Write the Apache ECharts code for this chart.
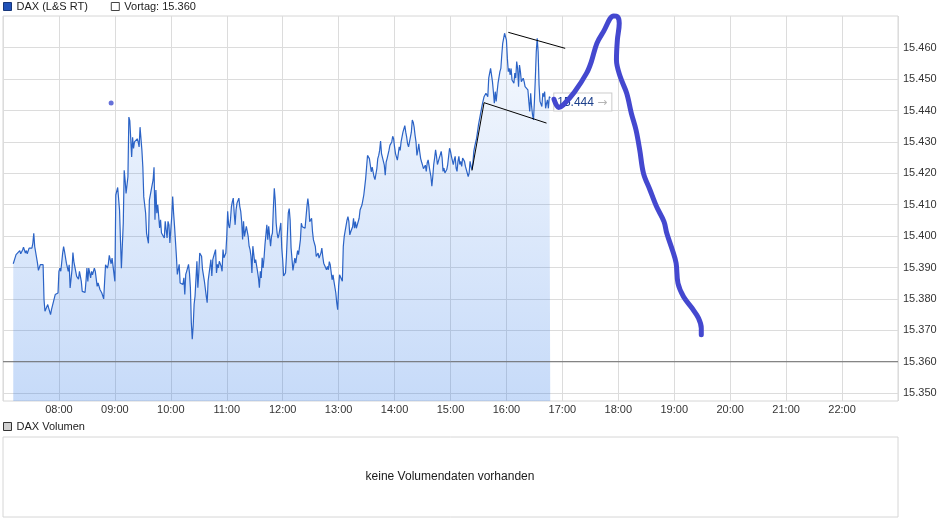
<!DOCTYPE html>
<html><head><meta charset="utf-8">
<script src="https://cdn.jsdelivr.net/npm/echarts@6/dist/echarts.min.js"></script>
<style>html,body{margin:0;padding:0;background:#fff}#c{width:940px;height:526px}</style>
</head><body><div id="c"></div>
<script>
// ---------- data ----------
const seriesName = 'DAX (L&S RT)';
const vortagName = 'Vortag: 15.360';
const volumeName = 'DAX Volumen';
const noVolumeText = 'keine Volumendaten vorhanden';
const vortag = 15360;
const xRange = ['07:00', '23:00'];
const yRange = [15347.5, 15470.1];
const priceTicks = [15350, 15360, 15370, 15380, 15390, 15400, 15410, 15420, 15430, 15440, 15450, 15460];
const hourLabels = ['08:00','09:00','10:00','11:00','12:00','13:00','14:00','15:00','16:00','17:00','18:00','19:00','20:00','21:00','22:00'];

const quotesMorning = [
 ['07:11',15391.2],['07:13',15391.4],['07:14',15394.1],['07:16',15394.6],['07:18',15395.4],['07:19',15394.4],['07:21',15395.6],['07:22',15396.5],['07:24',15394.6],['07:25',15395.4],['07:26',15394.4],['07:28',15396.2],['07:29',15395.6],['07:31',15396.2],['07:32',15397.7],['07:33',15400.9],['07:34',15396.7],['07:36',15396.2],['07:37',15391.4],['07:38',15389.1],['07:40',15390.9],['07:41',15391.2],['07:43',15390.9],['07:44',15379.8],['07:45',15376.1],['07:47',15376.6],['07:48',15378.2],['07:49',15377.1],['07:50',15376.8],['07:51',15375.0],['07:52',15376.6],['07:53',15376.1],['07:54',15376.6],['07:56',15381.4],['07:57',15381.7],['07:59',15381.9],
 ['08:00',15388.8],['08:01',15389.8],['08:02',15388.8],['08:04',15394.6],['08:05',15396.7],['08:06',15395.1],['08:08',15391.4],['08:09',15391.9],['08:10',15388.8],['08:11',15390.9],['08:12',15383.5],['08:14',15389.3],['08:15',15394.8],['08:16',15391.9],['08:18',15391.4],['08:19',15387.2],['08:21',15386.3],['08:22',15388.8],['08:24',15385.6],['08:25',15382.4],['08:26',15382.1],['08:28',15382.1],['08:29',15385.6],['08:30',15389.8],['08:31',15385.6],['08:32',15389.8],['08:34',15386.7],['08:35',15388.8],['08:36',15387.7],['08:38',15389.8],['08:39',15388.8],['08:41',15384.0],['08:42',15385.1],['08:44',15383.0],['08:45',15383.0],['08:46',15381.9],['08:48',15380.0],['08:49',15385.6],['08:50',15390.9],['08:52',15389.8],['08:53',15391.2],['08:54',15393.9],['08:56',15391.2],['08:57',15393.0],['08:59',15393.5],
 ['09:00',15385.6],['09:01',15413.1],['09:02',15413.1],['09:03',15415.5],['09:05',15408.3],['09:06',15398.8],['09:07',15389.8],['09:09',15404.1],['09:10',15421.0],['09:11',15417.8],['09:12',15413.6],['09:14',15418.9],['09:15',15437.9],['09:16',15436.8],['09:18',15425.2],['09:19',15431.5],['09:20',15427.9],['09:21',15430.0],['09:22',15429.4],['09:24',15431.0],['09:25',15430.0],['09:26',15428.4],['09:27',15434.7],['09:29',15427.3],['09:30',15422.0],['09:31',15412.5],['09:33',15407.3],['09:34',15400.9],['09:36',15397.7],
 ['09:37',15411.5],['09:39',15414.7],['09:41',15417.9],['09:42',15421.9],['09:43',15405.2],['09:44',15414.7],['09:45',15407.3],['09:46',15410.0],['09:48',15402.6],['09:49',15405.2],['09:50',15401.0],['09:51',15400.5],['09:53',15399.4],['09:54',15404.7],['09:55',15402.0],['09:56',15399.4],['09:57',15404.7],['09:58',15403.6],['09:59',15397.8]
];
const quotesMidday = [
 ['10:01',15406.3],['10:02',15412.6],['10:03',15407.3],['10:04',15403.1],['10:06',15393.6],['10:07',15387.8],['10:08',15388.3],['10:09',15391.0],['10:10',15385.1],['10:11',15384.6],['10:13',15384.6],['10:14',15386.7],['10:15',15381.4],['10:16',15387.8],['10:17',15388.8],['10:19',15391.0],['10:20',15388.3],['10:21',15383.6],['10:22',15372.5],['10:23',15367.2],['10:24',15371.4],['10:25',15378.3],['10:26',15380.9],['10:28',15392.0],['10:29',15383.6],['10:30',15388.3],['10:31',15394.6],['10:33',15393.6],['10:34',15389.4],['10:35',15389.9],['10:36',15385.7],['10:38',15380.9],['10:39',15378.8],['10:40',15385.7],['10:41',15386.2],['10:43',15392.5],['10:44',15387.3],['10:45',15392.5],['10:46',15393.6],['10:48',15395.7],['10:49',15388.3],['10:50',15391.0],['10:51',15389.9],['10:52',15392.0],['10:54',15390.4],['10:55',15388.8],['10:56',15395.7],['10:57',15393.1],['10:59',15394.6],
 ['11:00',15399.9],['11:01',15407.9],['11:02',15403.6],['11:03',15402.6],['11:04',15405.2],['11:05',15409.4],['11:06',15411.0],['11:07',15412.1],['11:08',15407.3],['11:09',15403.6],['11:10',15408.4],['11:11',15410.5],['11:13',15412.1],['11:14',15409.4],['11:15',15407.9],['11:16',15404.7],['11:17',15398.9],['11:18',15404.7],['11:19',15399.9],['11:20',15401.5],['11:21',15403.1],['11:23',15399.9],['11:24',15396.8],['11:25',15395.7],['11:26',15393.6],['11:27',15388.3],['11:28',15396.8],['11:29',15397.3],['11:30',15391.5],['11:31',15392.5],['11:33',15388.8],['11:34',15386.7],['11:35',15383.6],['11:36',15388.8],['11:37',15386.7],['11:38',15393.1],['11:39',15389.9],['11:40',15393.1],['11:41',15397.3],['11:43',15403.6],['11:44',15398.9],['11:45',15403.1],['11:46',15403.1],['11:47',15396.8],['11:48',15399.9],['11:49',15401.0],['11:50',15408.9],['11:51',15415.2],['11:52',15411.5],['11:53',15404.2],['11:54',15401.0],['11:55',15399.4],['11:56',15400.5],['11:57',15399.9],['11:58',15404.2],['11:59',15396.2],
 ['12:00',15392.5],['12:01',15387.3],['12:03',15388.3],['12:04',15393.5],['12:06',15407.3],['12:07',15408.8],['12:08',15405.1],['12:09',15396.2],['12:10',15395.6],['12:11',15389.1],['12:13',15393.0],['12:14',15391.4],['12:15',15393.5],['12:16',15395.4],['12:17',15394.1],['12:18',15394.6],['12:19',15398.8],['12:20',15404.1],['12:21',15403.0],['12:23',15403.6],['12:24',15402.5],['12:25',15403.0],['12:26',15409.4],['12:27',15412.0],['12:28',15409.4],['12:29',15404.6],['12:30',15405.1],['12:31',15405.7],['12:32',15401.4],['12:33',15398.8],['12:34',15398.8],['12:35',15396.7],['12:36',15393.5],['12:38',15394.6],['12:39',15393.0],['12:40',15392.5],['12:41',15394.6],['12:42',15396.2],['12:43',15393.5],['12:44',15391.4],['12:45',15390.9],['12:46',15391.4],['12:47',15389.3],['12:48',15390.4],['12:49',15389.3],['12:50',15391.9],['12:51',15390.9],['12:53',15386.1],['12:54',15387.7],['12:55',15385.6],['12:56',15385.1],['12:57',15381.9],['12:58',15378.7],['12:59',15376.6]
];
const quotesAfternoon = [
 ['13:00',15384.0],['13:01',15387.7],['13:03',15387.2],['13:04',15385.6],['13:05',15396.7],['13:06',15399.9],['13:08',15400.4],['13:09',15405.1],['13:10',15406.2],['13:11',15404.6],['13:12',15400.4],['13:13',15401.4],['13:14',15402.0],['13:15',15403.0],['13:16',15405.7],['13:17',15402.5],['13:18',15404.6],['13:19',15402.5],['13:21',15402.0],['13:22',15405.7],['13:23',15408.3],['13:25',15409.9],['13:26',15411.5],['13:27',15413.1],['13:28',15415.7],['13:29',15418.3],['13:30',15422.0],['13:31',15425.7],['13:32',15425.2],['13:33',15424.7],['13:34',15425.0],['13:35',15420.5],['13:36',15422.0],['13:37',15422.6],['13:38',15418.9],['13:39',15418.0],['13:40',15418.3],['13:41',15421.5],['13:42',15424.7],['13:43',15425.7],['13:44',15427.3],['13:45',15430.3],['13:46',15426.3],['13:48',15425.7],['13:49',15422.6],['13:50',15419.4],['13:51',15423.6],['13:52',15424.7],['13:53',15425.2],['13:54',15427.3],['13:55',15428.9],['13:56',15429.4],['13:57',15430.0],['13:58',15431.8],['13:59',15431.0],
 ['14:00',15428.4],['14:01',15426.3],['14:03',15424.2],['14:04',15426.3],['14:05',15428.4],['14:06',15427.3],['14:07',15430.0],['14:08',15430.5],['14:09',15433.1],['14:10',15433.7],['14:11',15435.2],['14:12',15433.1],['14:13',15431.5],['14:14',15429.4],['14:15',15428.4],['14:16',15427.9],['14:18',15433.1],['14:19',15437.0],['14:20',15436.3],['14:21',15434.7],['14:22',15432.1],['14:23',15430.0],['14:24',15425.7],['14:25',15427.3],['14:26',15429.4],['14:27',15426.8],['14:28',15424.7],['14:29',15423.6],['14:30',15422.6],['14:31',15421.5],['14:33',15422.6],['14:34',15420.6],['14:35',15423.3],['14:36',15424.3],['14:37',15423.8],['14:38',15420.6],['14:39',15419.0],['14:40',15415.9],['14:41',15419.0],['14:42',15422.8],['14:43',15424.9],['14:44',15427.5],['14:45',15425.4],['14:46',15422.8],['14:48',15424.9],['14:49',15425.9],['14:50',15427.0],['14:51',15424.9],['14:52',15420.6],['14:53',15421.7],['14:54',15420.1],['14:55',15419.6],['14:56',15421.2],['14:57',15422.8],['14:58',15425.4],['14:59',15428.0],
 ['15:00',15427.0],['15:01',15425.4],['15:03',15422.8],['15:04',15424.3],['15:05',15425.4],['15:06',15421.7],['15:07',15420.6],['15:08',15423.8],['15:09',15425.4],['15:10',15422.8],['15:11',15423.8],['15:12',15422.2],['15:13',15424.9],['15:14',15424.3],['15:15',15423.8],['15:16',15422.2],['15:18',15422.8],['15:19',15419.0],['15:20',15420.1],['15:21',15423.8],['15:22',15422.2],['15:23',15421.2],['15:24',15423.3],['15:25',15427.0],['15:26',15428.6],['15:28',15431.2],['15:29',15433.3],['15:30',15435.4],['15:31',15437.0],['15:32',15438.6],['15:33',15440.2],['15:34',15441.8],['15:35',15442.3],['15:36',15444.4],['15:38',15445.5],['15:39',15446.0],['15:40',15444.4],['15:41',15450.3],['15:42',15451.9],['15:43',15453.4],['15:44',15454.0],['15:45',15449.2],['15:46',15446.0],['15:47',15442.3],['15:48',15446.0],['15:49',15442.9],['15:50',15446.0],['15:51',15448.7],['15:53',15452.4],['15:54',15453.4],['15:55',15457.7],['15:56',15461.4],['15:57',15463.0],['15:58',15464.6],['15:59',15464.0],
 ['16:00',15462.4],['16:01',15456.6],['16:02',15452.4],['16:03',15453.4],['16:04',15451.3],['16:05',15453.4],['16:06',15449.7],['16:08',15448.7],['16:09',15451.9],['16:10',15450.3],['16:11',15455.6],['16:12',15453.4],['16:13',15447.6],['16:14',15454.5],['16:15',15452.4],['16:16',15449.2],['16:17',15448.7],['16:18',15450.3],['16:19',15449.2],['16:20',15447.6],['16:21',15448.1],['16:23',15446.6],['16:24',15442.9],['16:25',15439.7],['16:26',15445.5],['16:27',15441.3],['16:28',15438.6],['16:29',15437.0],['16:30',15442.9],['16:31',15450.3],['16:32',15458.7],['16:33',15463.0],['16:34',15458.7],['16:35',15448.1],['16:36',15442.9],['16:38',15441.3],['16:39',15445.5],['16:40',15444.4],['16:41',15446.0],['16:42',15440.7],['16:43',15442.3],['16:44',15443.4],['16:45',15440.7],['16:46',15444.4],['16:47',15444.0]
];

// annotations drawn on the chart
const markerDot = [['08:56', 15442.4]];
const channelUpper = [['16:02', 15464.9], ['17:03', 15459.8]];
const channelLower = [['15:36', 15442.5], ['16:43', 15436.0]];
const breakoutLine = [['15:23', 15420.9], ['15:36', 15442.5]];
const sketchLine = [
 ['16:51',15443.6],['16:56',15441.0],['17:01',15441.8],['17:13',15445.9],['17:26',15451.9],['17:31',15455.5],['17:37',15461.4],['17:44',15465.1],['17:55',15470.1],['17:59',15469.9],['18:01',15467.8],['17:59',15462.5],['17:58',15456.1],['18:02',15450.8],['18:09',15445.5],['18:14',15439.1],['18:19',15433.8],['18:23',15427.4],['18:27',15420.0],['18:34',15414.7],['18:41',15409.4],['18:49',15404.6],['18:52',15400.9],['18:58',15395.6],['19:02',15391.4],['19:04',15385.0],['19:10',15380.7],['19:19',15377.1],['19:26',15373.9],['19:29',15370.7],['19:29',15368.6]
];

// ---------- helpers ----------
function toMin(t) { const p = t.split(':'); return (+p[0]) * 60 + (+p[1]); }
function pts(arr) { return arr.map(d => [toMin(d[0]), d[1]]); }
function fmtPrice(v) { return (v / 1000).toFixed(3); }
const quotes = pts(quotesMorning.concat(quotesMidday, quotesAfternoon));
const hourMins = hourLabels.map(toMin);
const xMin = toMin(xRange[0]), xMax = toMin(xRange[1]);

const FONT = 'Liberation Sans, Arial, sans-serif';
const chart = echarts.init(document.getElementById('c'), null, {renderer: 'canvas'});
chart.setOption({
  animation: false,
  backgroundColor: '#fff',
  textStyle: {fontFamily: FONT},
  legend: [{
    left: 0, top: 1, padding: [0, 3], itemWidth: 8, itemHeight: 8, itemGap: 23,
    selectedMode: false,
    textStyle: {fontSize: 11, color: '#222', fontFamily: FONT},
    data: [
      {name: seriesName, icon: 'rect', itemStyle: {color: '#2152b8', borderColor: '#17367a', borderWidth: 1}},
      {name: vortagName, icon: 'rect', itemStyle: {color: '#fff', borderColor: '#444', borderWidth: 1}}
    ]
  }, {
    left: 0, top: 421, padding: [0, 3], itemWidth: 8, itemHeight: 8,
    selectedMode: false,
    textStyle: {fontSize: 11, color: '#222', fontFamily: FONT},
    data: [{name: volumeName, icon: 'rect', itemStyle: {color: '#d0d0d0', borderColor: '#333', borderWidth: 1}}]
  }],
  grid: [
    {left: 3, right: 42, top: 16, bottom: 125, show: true, borderColor: '#d6d6d6', borderWidth: 1, backgroundColor: 'transparent'},
    {left: 3, right: 42, top: 437, height: 80, show: true, borderColor: '#d6d6d6', borderWidth: 1, backgroundColor: 'transparent'}
  ],
  xAxis: [{
    type: 'value', gridIndex: 0, min: xMin, max: xMax, interval: 60,
    axisLine: {show: false}, axisTick: {show: false},
    splitLine: {show: true, lineStyle: {color: '#dcdcdc', width: 1}},
    axisLabel: {
      margin: 3, fontSize: 11, color: '#333', fontFamily: FONT,
      formatter: v => { const i = hourMins.indexOf(v); return i >= 0 ? hourLabels[i] : ''; }
    }
  }, {
    type: 'value', gridIndex: 1, show: false, min: 0, max: 1
  }],
  yAxis: [{
    type: 'value', gridIndex: 0, position: 'right', min: yRange[0], max: yRange[1],
    axisLine: {show: false},
    axisTick: {show: false, customValues: priceTicks},
    splitLine: {show: true, lineStyle: {color: '#dcdcdc', width: 1}},
    axisLabel: {customValues: priceTicks, margin: 5, fontSize: 11, color: '#333', fontFamily: FONT, formatter: fmtPrice}
  }, {
    type: 'value', gridIndex: 1, show: false, min: 0, max: 1
  }],
  graphic: [{
    type: 'text', x: 450, y: 477,
    style: {text: noVolumeText, align: 'center', verticalAlign: 'middle', fontSize: 12, fontFamily: FONT, fill: '#1a1a1a'}
  }],
  series: [{
    name: seriesName, type: 'line', data: quotes, z: 2,
    showSymbol: false, symbol: 'none',
    lineStyle: {color: '#2b63c6', width: 1.2},
    itemStyle: {color: '#2152b8'},
    areaStyle: {
      origin: 'start',
      color: new echarts.graphic.LinearGradient(0, 0, 0, 1, [
        {offset: 0, color: 'rgba(30,110,230,0.06)'},
        {offset: 1, color: 'rgba(30,110,230,0.36)'}
      ])
    },
    endLabel: {
      show: true, distance: 3, offset: [1, 4],
      formatter: p => '{v|' + fmtPrice(p.value[1]) + '} {a|→}',
      backgroundColor: '#fff', borderColor: '#cccccc', borderWidth: 1, padding: [3, 4, 2, 3],
      rich: {
        v: {color: '#1b3f8b', fontSize: 12, fontFamily: FONT},
        a: {color: '#b5b5b5', fontSize: 12, fontFamily: 'DejaVu Sans'}
      }
    }
  }, {
    name: vortagName, type: 'line', z: 3, symbol: 'none', silent: true,
    data: [[xMin, vortag], [xMax, vortag]],
    lineStyle: {color: '#6b6b6b', width: 1},
    itemStyle: {color: '#fff'}
  }, {
    name: 'upper', type: 'line', z: 4, symbol: 'none', silent: true, data: pts(channelUpper),
    lineStyle: {color: '#000', width: 1}
  }, {
    name: 'lower', type: 'line', z: 4, symbol: 'none', silent: true, data: pts(channelLower),
    lineStyle: {color: '#000', width: 1}
  }, {
    name: 'breakout', type: 'line', z: 4, symbol: 'none', silent: true, data: pts(breakoutLine),
    lineStyle: {color: '#000', width: 1}
  }, {
    name: 'marker', type: 'scatter', z: 5, silent: true, data: pts(markerDot),
    symbolSize: 5, itemStyle: {color: '#3f4cd0'}
  }, {
    name: 'sketch', type: 'line', z: 10, symbol: 'none', silent: true, clip: false, smooth: 0.35,
    data: pts(sketchLine),
    lineStyle: {color: '#4448cf', width: 5, cap: 'round', join: 'round'}
  }, {
    name: volumeName, type: 'bar', xAxisIndex: 1, yAxisIndex: 1, data: [],
    itemStyle: {color: '#d0d0d0'}
  }]
});
</script>
</body></html>
